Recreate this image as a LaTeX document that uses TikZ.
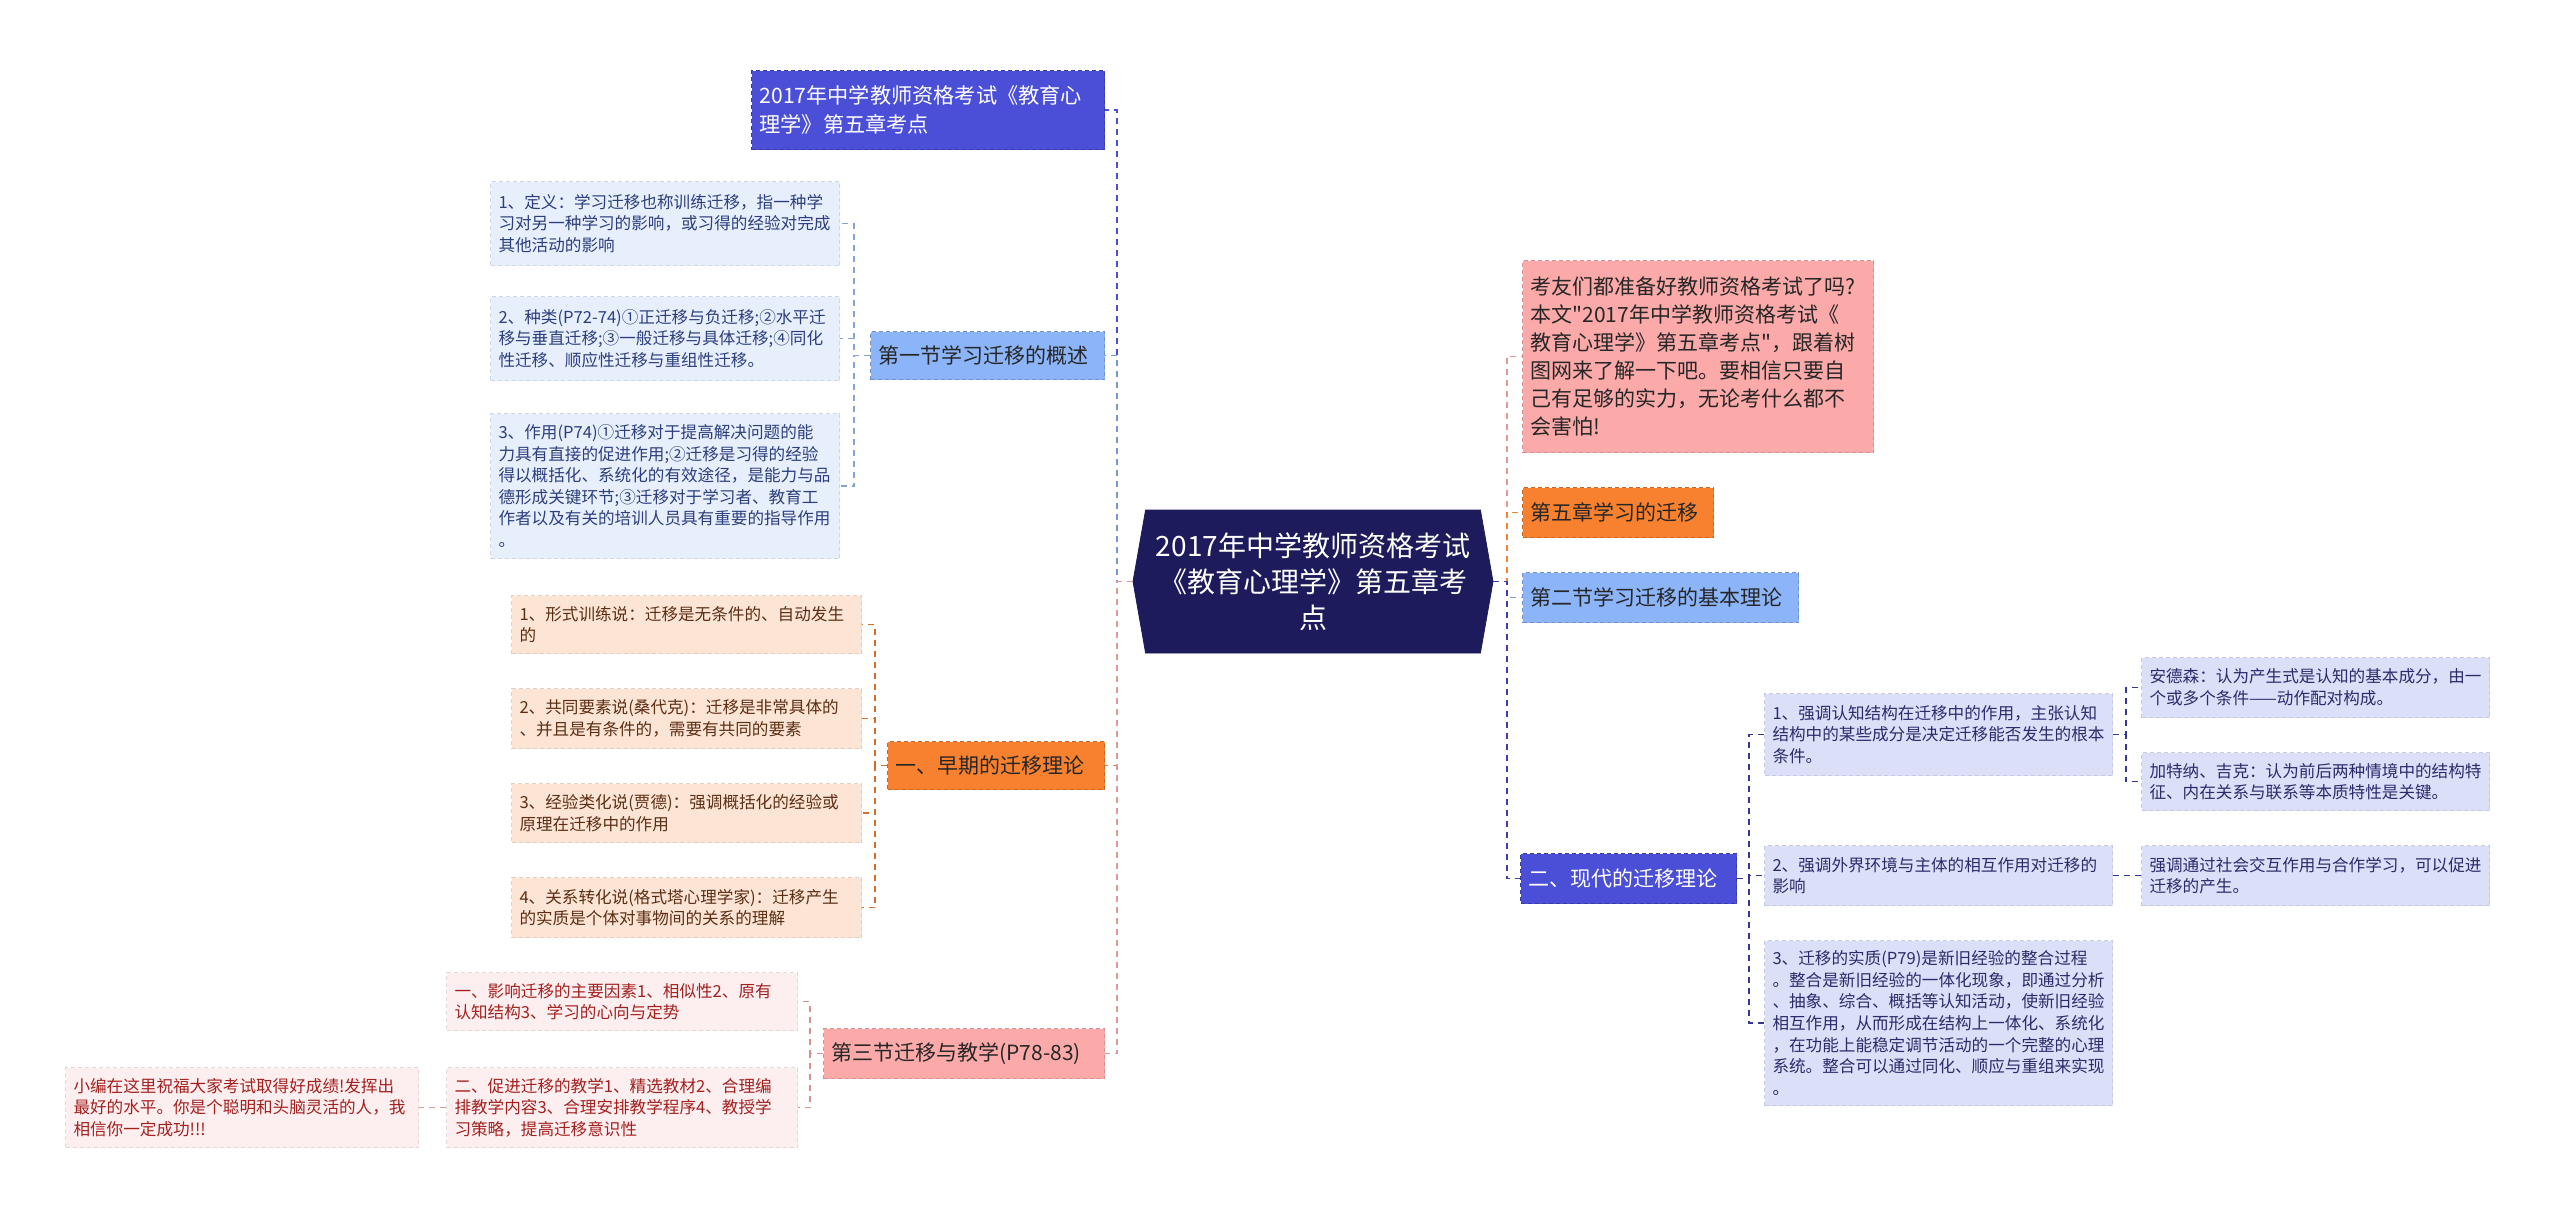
\documentclass[tikz,border=0pt]{standalone}
\usepackage{fontspec}
\newfontfamily\cjkfont{Noto Sans CJK SC}
\usetikzlibrary{shapes.symbols}

\definecolor{rootc}{HTML}{1D1B5B}
\definecolor{violetc}{HTML}{4B4FD7}
\definecolor{skyc}{HTML}{8CB4F8}
\definecolor{orangec}{HTML}{F7812F}
\definecolor{pinkc}{HTML}{FBA9A9}
\definecolor{skyleaf}{HTML}{E7EFFD}
\definecolor{peachleaf}{HTML}{FDE5D6}
\definecolor{roseleaf}{HTML}{FDEFEF}
\definecolor{lavleaf}{HTML}{DCDFF8}
\definecolor{skytext}{HTML}{2C3E7E}
\definecolor{peachtext}{HTML}{5C2E14}
\definecolor{rosetext}{HTML}{A3201F}
\definecolor{lavtext}{HTML}{2A2B6B}

\begin{document}
\begin{tikzpicture}[
x=0.5pt, y=-0.5pt,
box/.style={rectangle, draw, dash pattern=on 2pt off 1.5pt, line width=0.5pt, anchor=north west, inner xsep=4pt, inner ysep=0pt, align=left},
topic/.style={box, font=\cjkfont\fontsize{10.5}{14}\selectfont, text=black!85},
leaf/.style={box, font=\cjkfont\fontsize{8.3}{10.8}\selectfont},
skybox/.style={topic, fill=skyc, draw=skyc!80!black},
orangebox/.style={topic, fill=orangec, draw=orangec!80!black},
pinkbox/.style={topic, fill=pinkc, draw=pinkc!85!black},
violetbox/.style={topic, fill=violetc, draw=violetc!75!black, text=white},
skyleafbox/.style={leaf, fill=skyleaf, draw=skyleaf!90!black, text=skytext},
peachleafbox/.style={leaf, fill=peachleaf, draw=peachleaf!90!black, text=peachtext},
roseleafbox/.style={leaf, fill=roseleaf, draw=roseleaf!90!black, text=rosetext},
lavleafbox/.style={leaf, fill=lavleaf, draw=lavleaf!90!black, text=lavtext},
link/.style={dash pattern=on 3pt off 2.5pt, line width=0.8pt},
sublink/.style={dash pattern=on 3pt off 2.5pt, line width=0.6pt}
]
\fill[white] (0,0) rectangle (2560,1217);
\useasboundingbox (0,0) rectangle (2560,1217);

% --- Racine ---
\node[signal, signal to=west and east, signal pointer angle=160, fill=rootc, draw=rootc, text=white, align=center, font=\cjkfont\fontsize{14}{18}\selectfont, minimum width=180pt, minimum height=71.5pt, inner sep=2pt] (root) at (1313,581.5) {2017年中学教师资格考试\\《教育心理学》第五章考\\点};

% --- Bloc gauche ---
\node[violetbox, text width=168.5pt, minimum height=39.5pt, font=\cjkfont\fontsize{10.6}{14.5}\selectfont] (title) at (751,70) {2017年中学教师资格考试《教育心\\理学》第五章考点};
\node[skybox, text width=109pt, minimum height=24pt] (sec1) at (870,331) {第一节学习迁移的概述};
\node[orangebox, text width=100.5pt, minimum height=24pt] (early) at (887,741) {一、早期的迁移理论};
\node[pinkbox, text width=132.5pt, minimum height=25pt] (sec3) at (823,1028) {第三节迁移与教学(P78-83)};

\node[skyleafbox, text width=166.5pt, minimum height=42pt] (def) at (490,181) {1、定义：学习迁移也称训练迁移，指一种学\\习对另一种学习的影响，或习得的经验对完成\\其他活动的影响};
\node[skyleafbox, text width=166.5pt, minimum height=42pt] (kind) at (490,296) {2、种类(P72-74)①正迁移与负迁移;②水平迁\\移与垂直迁移;③一般迁移与具体迁移;④同化\\性迁移、顺应性迁移与重组性迁移。};
\node[skyleafbox, text width=166.5pt, minimum height=72.5pt] (role) at (490,413) {3、作用(P74)①迁移对于提高解决问题的能\\力具有直接的促进作用;②迁移是习得的经验\\得以概括化、系统化的有效途径，是能力与品\\德形成关键环节;③迁移对于学习者、教育工\\作者以及有关的培训人员具有重要的指导作用\\。};

\node[peachleafbox, text width=167pt, minimum height=29pt] (formal) at (511,595) {1、形式训练说：迁移是无条件的、自动发生\\的};
\node[peachleafbox, text width=167pt, minimum height=30pt] (common) at (511,688) {2、共同要素说(桑代克)：迁移是非常具体的\\、并且是有条件的，需要有共同的要素};
\node[peachleafbox, text width=167pt, minimum height=29.5pt] (general) at (511,783) {3、经验类化说(贾德)：强调概括化的经验或\\原理在迁移中的作用};
\node[peachleafbox, text width=167pt, minimum height=30pt] (relation) at (511,877) {4、关系转化说(格式塔心理学家)：迁移产生\\的实质是个体对事物间的关系的理解};

\node[roseleafbox, text width=167.5pt, minimum height=29pt] (factor) at (446,972) {一、影响迁移的主要因素1、相似性2、原有\\认知结构3、学习的心向与定势};
\node[roseleafbox, text width=167.5pt, minimum height=40pt] (teach) at (446,1067) {二、促进迁移的教学1、精选教材2、合理编\\排教学内容3、合理安排教学程序4、教授学\\习策略，提高迁移意识性};
\node[roseleafbox, text width=168.5pt, minimum height=40pt] (wish) at (65,1067) {小编在这里祝福大家考试取得好成绩!发挥出\\最好的水平。你是个聪明和头脑灵活的人，我\\相信你一定成功!!!};

% --- Bloc droit ---
\node[pinkbox, text width=167.5pt, minimum height=96pt] (intro) at (1522,260) {考友们都准备好教师资格考试了吗?\\本文"2017年中学教师资格考试《\\教育心理学》第五章考点"，跟着树\\图网来了解一下吧。要相信只要自\\己有足够的实力，无论考什么都不\\会害怕!};
\node[orangebox, text width=87.5pt, minimum height=25pt] (chap) at (1522,487) {第五章学习的迁移};
\node[skybox, text width=130pt, minimum height=25pt] (sec2) at (1522,572) {第二节学习迁移的基本理论};
\node[violetbox, text width=100pt, minimum height=25pt] (modern) at (1520,853) {二、现代的迁移理论};

\node[lavleafbox, text width=166pt, minimum height=41pt] (struct) at (1764,693) {1、强调认知结构在迁移中的作用，主张认知\\结构中的某些成分是决定迁移能否发生的根本\\条件。};
\node[lavleafbox, text width=166pt, minimum height=30pt] (env) at (1764,845) {2、强调外界环境与主体的相互作用对迁移的\\影响};
\node[lavleafbox, text width=166pt, minimum height=82.5pt] (essence) at (1764,940) {3、迁移的实质(P79)是新旧经验的整合过程\\。整合是新旧经验的一体化现象，即通过分析\\、抽象、综合、概括等认知活动，使新旧经验\\相互作用，从而形成在结构上一体化、系统化\\，在功能上能稳定调节活动的一个完整的心理\\系统。整合可以通过同化、顺应与重组来实现\\。};

\node[lavleafbox, text width=166pt, minimum height=30pt] (anderson) at (2141,657) {安德森：认为产生式是认知的基本成分，由一\\个或多个条件——动作配对构成。};
\node[lavleafbox, text width=166pt, minimum height=29pt] (gick) at (2141,752) {加特纳、吉克：认为前后两种情境中的结构特\\征、内在关系与联系等本质特性是关键。};
\node[lavleafbox, text width=166pt, minimum height=30pt] (social) at (2141,845) {强调通过社会交互作用与合作学习，可以促进\\迁移的产生。};

% --- Troncs ---
\coordinate (ltrunk) at (1117,0);
\coordinate (rtrunk) at (1507,0);
\coordinate (t1) at (854,0);
\coordinate (t2) at (875,0);
\coordinate (t3) at (810,0);
\coordinate (t4) at (1749,0);
\coordinate (t5) at (2126,0);

% --- Liaisons racine ---
\draw[link, violetc] (root.west) -- (root.west -| ltrunk) |- (title.east);
\draw[link, skyc!85!black] (root.west) -- (root.west -| ltrunk) |- (sec1.east);
\draw[link, orangec] (root.west) -- (root.west -| ltrunk) |- (early.east);
\draw[link, pinkc!90!black] (root.west) -- (root.west -| ltrunk) |- (sec3.east);
\draw[link, pinkc!90!black] (root.east) -- (root.east -| rtrunk) |- (intro.west);
\draw[link, orangec] (root.east) -- (root.east -| rtrunk) |- (chap.west);
\draw[link, skyc!85!black] (root.east) -- (root.east -| rtrunk) |- (sec2.west);
\draw[link, violetc!80!black] (root.east) -- (root.east -| rtrunk) |- (modern.west);

% --- Liaisons feuilles ---
\draw[sublink, skyc!70!gray] (sec1.west) -- (sec1.west -| t1) |- (def.east);
\draw[sublink, skyc!70!gray] (sec1.west) -- (sec1.west -| t1) |- (kind.east);
\draw[sublink, skyc!70!gray] (sec1.west) -- (sec1.west -| t1) |- (role.east);
\draw[sublink, orangec!85!black] (early.west) -- (early.west -| t2) |- (formal.east);
\draw[sublink, orangec!85!black] (early.west) -- (early.west -| t2) |- (common.east);
\draw[sublink, orangec!85!black] (early.west) -- (early.west -| t2) |- (general.east);
\draw[sublink, orangec!85!black] (early.west) -- (early.west -| t2) |- (relation.east);
\draw[sublink, pinkc!85!black] (sec3.west) -- (sec3.west -| t3) |- (factor.east);
\draw[sublink, pinkc!85!black] (sec3.west) -- (sec3.west -| t3) |- (teach.east);
\draw[sublink, pinkc!70!gray] (teach.west) -- (wish.east);
\draw[sublink, violetc!70!black] (modern.east) -- (modern.east -| t4) |- (struct.west);
\draw[sublink, violetc!70!black] (modern.east) -- (modern.east -| t4) |- (env.west);
\draw[sublink, violetc!70!black] (modern.east) -- (modern.east -| t4) |- (essence.west);
\draw[sublink, violetc!70!black] (struct.east) -- (struct.east -| t5) |- (anderson.west);
\draw[sublink, violetc!70!black] (struct.east) -- (struct.east -| t5) |- (gick.west);
\draw[sublink, violetc!70!black] (env.east) -- (social.west);

\end{tikzpicture}
\end{document}
